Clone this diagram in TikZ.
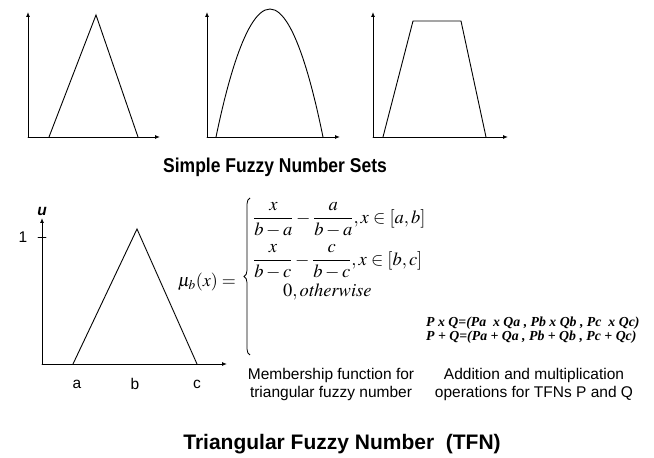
\documentclass[tikz,border=0pt]{standalone}
\usepackage{amsmath}
\usepackage{mathptmx}
\usepackage[no-math]{fontspec}
\setmainfont{Liberation Sans}
\newfontfamily\timesfont{Liberation Serif}
\usepackage{tkz-euclide}
\usetikzlibrary{arrows.meta,positioning,decorations.pathreplacing}
\tikzset{axisline/.style={line width=.9pt,-{Latex[length=5pt,width=4pt]}}}

\begin{document}
\begin{tikzpicture}[x=1pt,y=1pt,font=\fontsize{15.5}{18}\selectfont]
\useasboundingbox (0,0) rectangle (654,458);
\tkzSetUpLine[line width=.9pt,color=black]

% simple shapes: triangle, bell, trapezoid
\tkzDefPoints{28/321/O1,28/446/Y1,160/321/X1,49/321/A1,96/443/B1,138/321/C1}
\tkzDefPoints{207/321/O2,207/446/Y2,340/321/X2,216/321/A2,270/449/B2,323/321/C2}
\tkzDefPoints{373/321/O3,373/446/Y3,508/321/X3,383/321/A3,413/437/B3,461/437/C3,486/321/D3}

\tkzDrawSegments[axisline](O1,Y1 O1,X1 O2,Y2 O2,X2 O3,Y3 O3,X3)
\tkzDrawPolySeg(A1,B1,C1)
\draw[line width=.9pt] (A2) parabola bend (B2) (C2);
\tkzDrawPolySeg(A3,B3,C3,D3)

\node (title1) at (275,291) {\scalebox{.875}[1]{\fontsize{20}{24}\selectfont\bfseries Simple Fuzzy Number Sets}};

% the TFN
\tkzDefPoints{42/94/O,42/240/U,227/94/X,73/94/A,137/229/B,197/94/C,38/221/T1,46/221/T2}
\tkzDrawSegments[axisline](O,U O,X)
\tkzDrawSegment(T1,T2)
\tkzDrawPolySeg(A,B,C)

\node (lu) at (42,247) {\bfseries\itshape u};
\node (lone) at (23,221) {1};
\node (la) at (77,74) {a};
\node (lb) at (135,74) {b};
\node (lc) at (197,74) {c};

% membership function
\tkzDefPoints{250/103/Bs,250/260/Be}
\draw[line width=.8pt,decorate,decoration={brace,amplitude=6pt}] (Bs) -- (Be);
\node (mu) [anchor=east,inner sep=0pt,font=\fontsize{18}{20}\selectfont] at (236,176) {$\mu_b(x)=$};
\node (row1) [anchor=west,inner sep=0pt,font=\fontsize{18.5}{20}\selectfont] at (253,238)
  {$\displaystyle\frac{x}{b-a}-\frac{a}{b-a},x\in[a,b]$};
\node (row2) [anchor=west,inner sep=0pt,font=\fontsize{18.5}{20}\selectfont] at (253,196)
  {$\displaystyle\frac{x}{b-c}-\frac{c}{b-c},x\in[b,c]$};
\node (row3) [anchor=west,inner sep=0pt,font=\fontsize{18.5}{20}\selectfont] at (283,166) {$0,\mathit{otherwise}$};

\node (ops) [anchor=west,align=left,inner sep=0pt,font=\timesfont\bfseries\itshape\fontsize{13.8}{14}\selectfont] at (426,128)
  {P x Q=(Pa\ \ x Qa , Pb x Qb , Pc\ \ x Qc)\\P + Q=(Pa + Qa , Pb + Qb , Pc + Qc)};

\node (capmf) [align=center] at (331,74) {Membership function for\\triangular fuzzy number};
\node (capops) [align=center] at (534,74) {Addition and multiplication\\operations for TFNs P and Q};

\node (title2) at (342,14) {\fontsize{21}{25}\selectfont\bfseries Triangular Fuzzy Number\ \ (TFN)};
\end{tikzpicture}
\end{document}
